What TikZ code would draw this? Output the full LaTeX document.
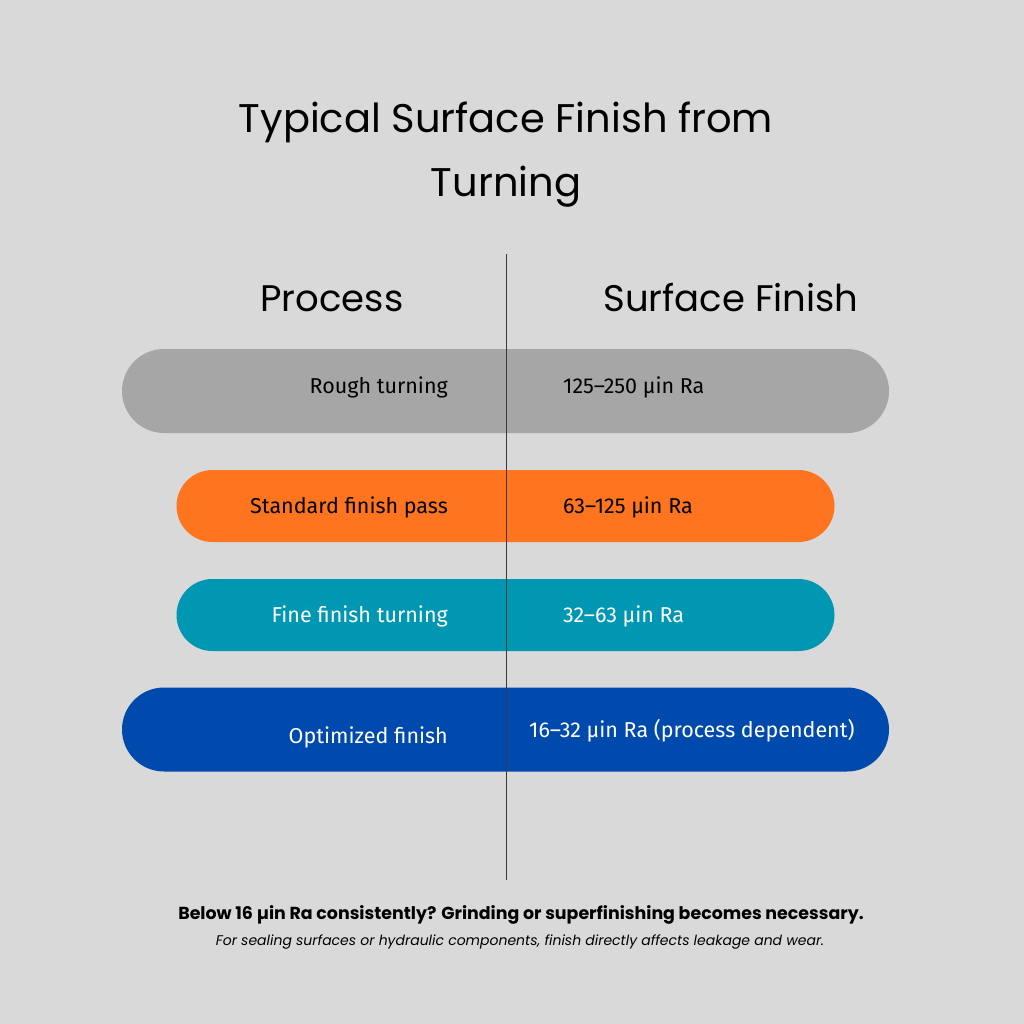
\documentclass[tikz,border=0pt]{standalone}
\usepackage{fontspec}
\setmainfont{Poppins}
\newfontfamily\pillfont{Fira Sans}
\usetikzlibrary{positioning}
\usetikzlibrary{backgrounds}
\definecolor{pBack}{HTML}{D9D9D9}
\definecolor{pGray}{HTML}{A6A6A6}
\definecolor{pOrange}{HTML}{FF751F}
\definecolor{pTeal}{HTML}{0097B2}
\definecolor{pBlue}{HTML}{004AAD}
\definecolor{pLine}{HTML}{3A3A3A}

\begin{document}
\begin{tikzpicture}[x=1pt, y=-1pt,
  pill/.style={rounded corners=36pt, minimum height=72pt, minimum width=658pt, inner sep=0pt},
  bigpill/.style={pill, rounded corners=42pt, minimum height=84pt, minimum width=767pt},
  lab/.style={font=\pillfont\fontsize{21.5}{24}\selectfont, inner sep=0pt},
  head/.style={font=\fontsize{37}{44}\selectfont, inner sep=0pt, anchor=base}
  ]
  \fill[pBack] (0,0) rectangle (1024,1024);

  % title
  \node[head, font=\fontsize{40}{46}\selectfont] (title1) at (506,133) {Typical Surface Finish from};
  \node[head, font=\fontsize{40}{46}\selectfont] (title2) at (506,197) {Turning};

  % column heads
  \node[head] (hProc) at (332,311) {Process};
  \node[head] (hFin) at (731,311) {Surface Finish};

  % bars
  \node[bigpill, fill=pGray]   (rough) at (505.5,391) {};
  \node[pill,    fill=pOrange] (std)   at (505.5,506) {};
  \node[pill,    fill=pTeal]   (fine)  at (505.5,615) {};
  \node[bigpill, fill=pBlue]   (opt)   at (505.5,729.5) {};

  % labels
  \node[lab, anchor=base east] (roughP) at (448,393) {Rough turning};
  \node[lab, anchor=base west] (roughF) at (563,393) {125–250 µin Ra};
  \node[lab, anchor=base east] (stdP) at (448,513) {Standard finish pass};
  \node[lab, anchor=base west] (stdF) at (563,513) {63–125 µin Ra};
  \node[lab, anchor=base east, text=white] (fineP) at (448,622) {Fine finish turning};
  \node[lab, anchor=base west, text=white] (fineF) at (563,622) {32–63 µin Ra};
  \node[lab, anchor=base east, text=white] (optP) at (448,743) {Optimized finish};
  \node[lab, anchor=base west, text=white] (optF) at (529,737) {16–32 µin Ra (process dependent)};

  % divider
  \coordinate (divTop) at (506,254);
  \coordinate (divBot) at (506,880);
  \draw[pLine, line width=1pt] (divTop) -- (divBot);

  % notes
  \node[inner sep=0pt, anchor=base, font=\bfseries\fontsize{17.4}{20}\selectfont] (note1) at (521,919)
    {Below 16 µin Ra consistently? Grinding or superfinishing becomes necessary.};
  \node[inner sep=0pt, anchor=base, font=\itshape\fontsize{14}{16}\selectfont] (note2) at (520,945)
    {For sealing surfaces or hydraulic components, finish directly affects leakage and wear.};
\end{tikzpicture}
\end{document}
